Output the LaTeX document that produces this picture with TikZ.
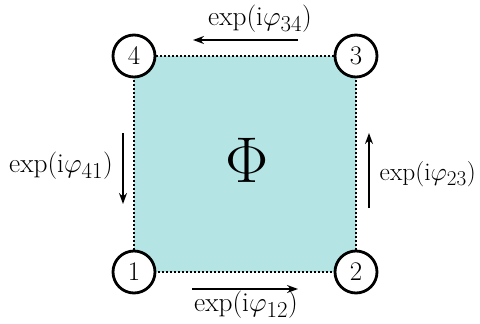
\documentclass[tikz,border=0pt]{standalone}
\usetikzlibrary{arrows.meta}
\definecolor{teal1}{RGB}{180,228,228}
\newcommand\bigtxt[2]{\scalebox{#1}{\fontsize{24.88}{28}\selectfont #2}}
\begin{document}
\begin{tikzpicture}[x=1pt,y=-1pt,
  site/.style={circle,draw=black,line width=2.8pt,fill=white,minimum size=42pt,inner sep=0pt},
  phasearrow/.style={-{Stealth[length=11pt,width=8pt]},line width=1.4pt},
  lab/.style={inner sep=0pt}]
\useasboundingbox (0,0) rectangle (480,324);
\coordinate (c1) at (134,272);
\coordinate (c2) at (356,272);
\coordinate (c3) at (356,56);
\coordinate (c4) at (134,56);
\fill[teal1] (c1) rectangle (c3);
\draw[line width=2pt,dotted] (c1) -- (c2) -- (c3) -- (c4) -- cycle;
\node[site] (n1) at (c1) {\bigtxt{1.08}{1}};
\node[site] (n2) at (c2) {\bigtxt{1.08}{2}};
\node[site] (n3) at (c3) {\bigtxt{1.08}{3}};
\node[site] (n4) at (c4) {\bigtxt{1.08}{4}};
\node[inner sep=0pt] (phi) at (247,160) {\bigtxt{2.6}{$\Phi$}};
% arrows
\coordinate (a34s) at (298,40); \coordinate (a34e) at (193,40);
\coordinate (a41s) at (123,133); \coordinate (a41e) at (123,204);
\coordinate (a23s) at (369,208); \coordinate (a23e) at (369,133);
\coordinate (a12s) at (192,289); \coordinate (a12e) at (298,289);
\draw[phasearrow] (a34s) -- (a34e);
\draw[phasearrow] (a41s) -- (a41e);
\draw[phasearrow] (a23s) -- (a23e);
\draw[phasearrow] (a12s) -- (a12e);
\node[lab] (l34) at (260,19) {\bigtxt{1.1}{exp(i$\varphi_{34}$)}};
\node[lab,anchor=east] (l41) at (113,166) {\bigtxt{1.1}{exp(i$\varphi_{41}$)}};
\node[lab,anchor=east] (l23) at (476,174) {\bigtxt{1.02}{exp(i$\varphi_{23}$)}};
\node[lab] (l12) at (246,305) {\bigtxt{1.1}{exp(i$\varphi_{12}$)}};
\end{tikzpicture}
\end{document}
